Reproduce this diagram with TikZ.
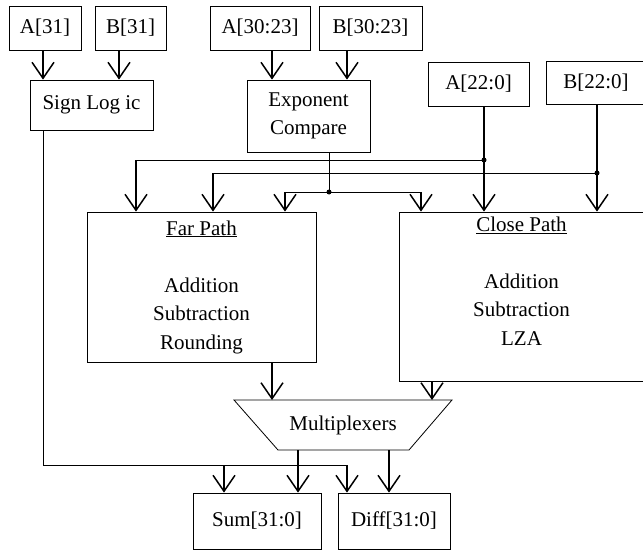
\documentclass[tikz,border=0pt]{standalone}
\usepackage{fontspec}
\setmainfont{Liberation Serif}
\usetikzlibrary{arrows.meta}
\begin{document}
\begin{tikzpicture}[x=1pt,y=-1pt,
  lbl/.style={font=\fontsize{21}{28.5}\selectfont, align=center, inner sep=0pt},
  box/.style={lbl, draw, line width=0.8pt},
  wire/.style={line width=0.9pt},
  arr/.style={line width=1.3pt, -{Straight Barb[length=16pt,width=22pt,line width=1.5pt]}},
  jdot/.style={circle, fill, inner sep=0pt, minimum size=5pt}]
\clip (0,0) rectangle (643,551);

% input registers
\node[box, minimum width=72,  minimum height=44] (A31)   at (45,28)    {A[31]};
\node[box, minimum width=71,  minimum height=44] (B31)   at (130.5,28) {B[31]};
\node[box, minimum width=100, minimum height=44] (A3023) at (260,28)   {A[30:23]};
\node[box, minimum width=103, minimum height=44] (B3023) at (370.5,28) {B[30:23]};
\node[box, minimum width=101, minimum height=44] (A220)  at (478.5,84) {A[22:0]};
\node[box, minimum width=100, minimum height=43] (B220)  at (596,82.5) {B[22:0]};

% processing blocks
\node[box, minimum width=123, minimum height=50] (sign) at (91.5,105)  {Sign Log ic};
\node[box, minimum width=123, minimum height=72] (expo) at (308.5,116) {Exponent\\Compare};
\node[box, minimum width=229, minimum height=150] (far) at (201.5,287)
  {\underline{Far Path}\\[28.5pt]Addition\\Subtraction\\Rounding};
\node[box, minimum width=245, minimum height=169] (close) at (521.5,296.5) {};
\node[lbl] (closetxt) at (521.5,281)
  {\underline{Close Path}\\[28.5pt]Addition\\Subtraction\\LZA};

% multiplexer trapezoid
\coordinate (mtl) at (234,400);
\coordinate (mtr) at (452,400);
\coordinate (mbr) at (409,450);
\coordinate (mbl) at (278,450);
\draw[line width=0.8pt] (mtl) -- (mtr) -- (mbr) -- (mbl) -- cycle;
\node[lbl] (mux) at (343,425) {Multiplexers};

% outputs
\node[box, minimum width=128, minimum height=56] (sum)  at (257,521) {Sum[31:0]};
\node[box, minimum width=112, minimum height=56] (diff) at (394,521) {Diff[31:0]};

% column positions of the connectors
\coordinate (ca) at (43,0);
\coordinate (cb) at (119,0);
\coordinate (cc) at (272,0);
\coordinate (cd) at (347,0);
\coordinate (ce) at (329,0);
\coordinate (ch) at (484,0);
\coordinate (cj) at (597,0);
\coordinate (cl) at (272,0);
\coordinate (cm) at (432,0);
\coordinate (cn) at (298,0);
\coordinate (co) at (389,0);

% junctions and bends
\coordinate (j1) at (329,192);
\coordinate (cf) at (285,192);
\coordinate (cg) at (421,192);
\coordinate (d1) at (484,160);
\coordinate (ci) at (136,160);
\coordinate (d2) at (597,173);
\coordinate (ck) at (213,173);
\coordinate (s1) at (43,465);
\coordinate (s2) at (347,465);
\coordinate (s3) at (224,465);

% inputs into sign logic and exponent compare
\draw[arr] (A31.south -| ca) -- (sign.north -| ca);
\draw[arr] (B31.south -| cb) -- (sign.north -| cb);
\draw[arr] (A3023.south -| cc) -- (expo.north -| cc);
\draw[arr] (B3023.south -| cd) -- (expo.north -| cd);

% exponent compare result to both paths
\draw[wire] (expo.south -| ce) -- (j1);
\draw[wire] (cf) -- (cg);
\node[jdot] at (j1) {};
\draw[arr] (cf) -- (far.north -| cf);
\draw[arr] (cg) -- (close.north -| cg);

% mantissa A to both paths
\draw[arr] (A220.south -| ch) -- (close.north -| ch);
\draw[wire] (d1) -- (ci);
\node[jdot] at (d1) {};
\draw[arr] (ci) -- (far.north -| ci);

% mantissa B to both paths
\draw[arr] (B220.south -| cj) -- (close.north -| cj);
\draw[wire] (d2) -- (ck);
\node[jdot] at (d2) {};
\draw[arr] (ck) -- (far.north -| ck);

% paths into the multiplexers
\draw[arr] (far.south -| cl) -- (mtl -| cl);
\draw[arr] (close.south -| cm) -- (mtl -| cm);

% multiplexer outputs
\draw[arr] (mbl -| cn) -- (sum.north -| cn);
\draw[arr] (mbl -| co) -- (diff.north -| co);

% sign bit to the outputs
\draw[wire] (sign.south -| ca) -- (s1) -- (s2);
\draw[arr] (s2) -- (diff.north -| s2);
\draw[arr] (s3) -- (sum.north -| s3);
\end{tikzpicture}
\end{document}
